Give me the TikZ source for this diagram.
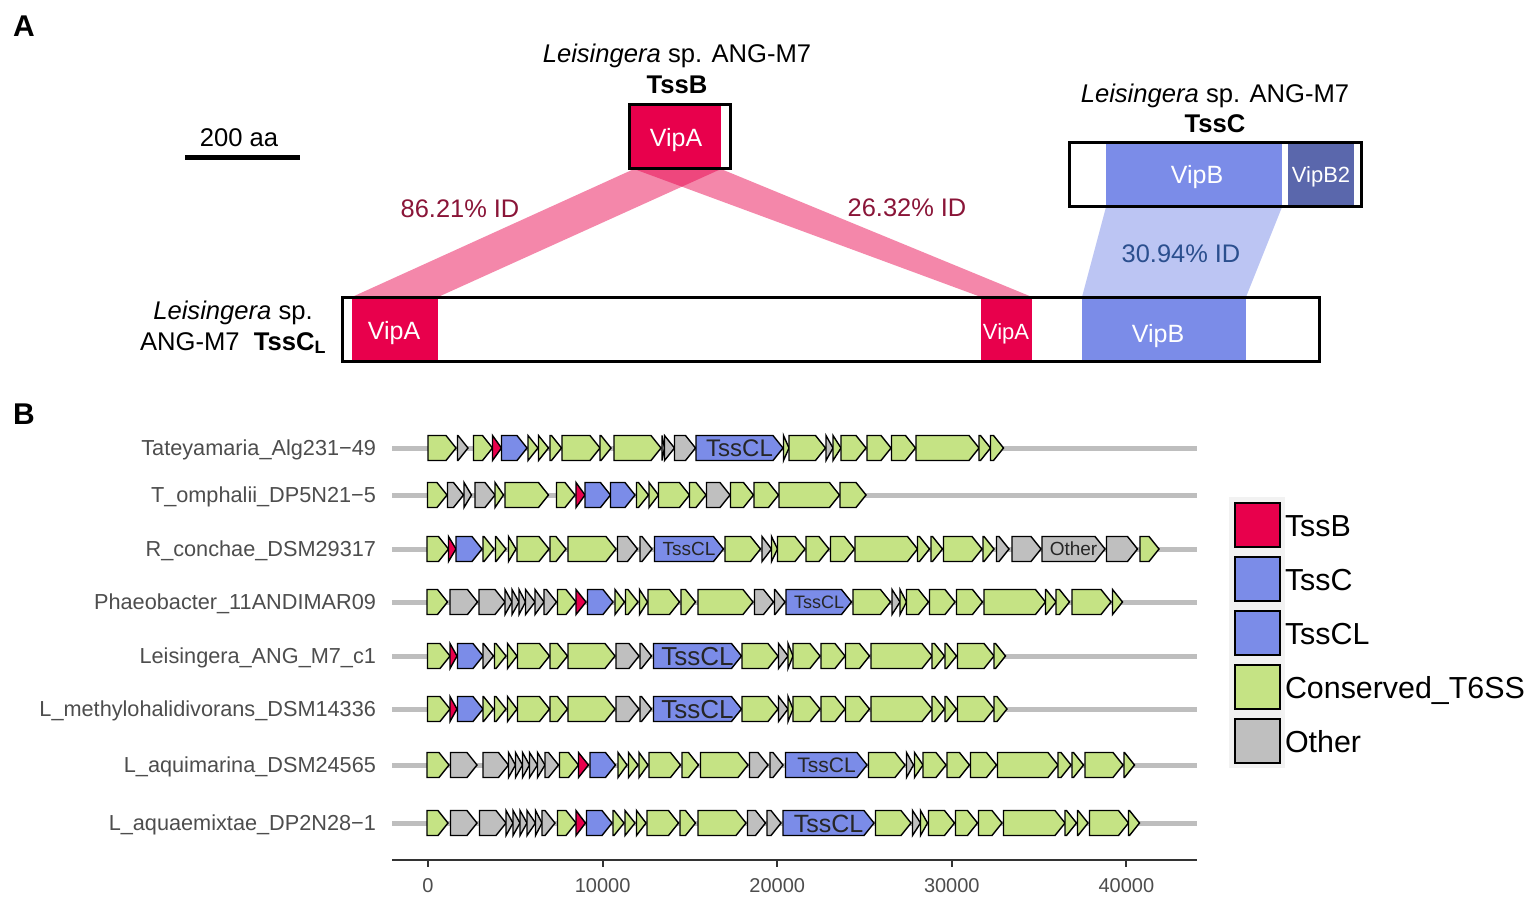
\documentclass[tikz,border=0pt]{standalone}
\usepackage{fontspec}
\setmainfont{Liberation Sans}
\definecolor{rr}{HTML}{E8004C}
\definecolor{bb}{HTML}{7B8CE8}
\definecolor{vb2}{HTML}{5A67AC}
\definecolor{gg}{HTML}{C5E384}
\definecolor{oo}{HTML}{BFBFBF}
\definecolor{txtg}{HTML}{4D4D4D}
\definecolor{idred}{HTML}{8A1538}
\definecolor{idblue}{HTML}{2B4F8E}
\definecolor{keybg}{HTML}{F2F2F2}
\definecolor{trackg}{HTML}{BEBEBE}
\newcommand\fs[1]{\fontsize{#1}{#1}\selectfont}
\newcommand\generow[2]{%
  \draw[trackg, line width=5pt] (392,#1) -- (1197,#1);
  \foreach \a/\b/\c in {#2} {
    \pgfmathsetmacro\hl{min(10,\b-\a)}
    \filldraw[fill=\c, draw=black, line width=1.4pt, line join=miter]
      (\a,#1-12.5) -- (\b-\hl,#1-12.5) -- (\b,#1) -- (\b-\hl,#1+12.5) -- (\a,#1+12.5) -- cycle;
  }}
\tikzset{
  lbl/.style={font=\fs{25.6}, anchor=base},
  rowlbl/.style={font=\fs{21.7}, text=txtg, anchor=base east},
  axlbl/.style={font=\fs{20}, text=txtg, anchor=base},
  leglbl/.style={font=\fs{30.4}, anchor=base west},
  keybox/.style={draw=black, line width=1.3pt},
  boxout/.style={draw=black, line width=3pt},
  inlbl/.style={font=\fs{25}, text=white, anchor=base},
  idlbl/.style={font=\fs{25.4}, anchor=base},
}
\begin{document}
\begin{tikzpicture}[x=1pt,y=-1pt, every node/.style={inner sep=0pt, outer sep=0pt}]
\useasboundingbox (0,0) rectangle (1537,900);
\fill[white] (0,0) rectangle (1537,900);

% ---------------- Panel A ----------------
\node[font=\fs{30}\bfseries, anchor=base] (labA) at (24,36) {A};
\node[lbl] (scl) at (239,146) {200 aa};
\coordinate (sb1) at (185,157);
\coordinate (sb2) at (300,157);
\draw[line width=5pt] (sb1) -- (sb2);

\node[lbl] (tbT) at (677,62) {\textit{Leisingera} sp. ANG-M7};
\node[lbl, font=\fs{25.6}\bfseries] (tbN) at (677,93) {TssB};
\node[lbl] (tcT) at (1215,102) {\textit{Leisingera} sp. ANG-M7};
\node[lbl, font=\fs{25.6}\bfseries] (tcN) at (1215,132) {TssC};
\node[lbl] (tlT1) at (233,319) {\textit{Leisingera} sp.};
\node[lbl] (tlT2) at (233,350) {ANG-M7\ \ \textbf{TssC\textsubscript{L}}};

% bands
\coordinate (bA1) at (634,169); \coordinate (bA2) at (721,169);
\coordinate (lA1) at (352,297); \coordinate (lA2) at (438,297);
\coordinate (rA1) at (981,297); \coordinate (rA2) at (1032,297);
\coordinate (tB1) at (1106,207); \coordinate (tB2) at (1282,207);
\coordinate (lB1) at (1082,297); \coordinate (lB2) at (1246,297);
\fill[rr, opacity=0.47] (bA1) -- (bA2) -- (lA2) -- (lA1) -- cycle;
\fill[rr, opacity=0.47] (bA1) -- (bA2) -- (rA2) -- (rA1) -- cycle;
\fill[bb, opacity=0.5] (tB1) -- (tB2) -- (lB2) -- (lB1) -- cycle;

% TssB box
\fill[rr] (631,104) rectangle (721,169);
\draw[boxout] (629.5,104.5) rectangle (730.5,168.5);
\node[inlbl] (vA0) at (676,146) {VipA};

% TssC box
\fill[bb] (1106,142) rectangle (1282,207);
\fill[vb2] (1288,142) rectangle (1354,207);
\draw[boxout] (1069.5,142.5) rectangle (1361.5,206.5);
\node[inlbl] (vB0) at (1197,183) {VipB};
\node[inlbl, font=\fs{22}] (vB2) at (1321,182) {VipB2};

% TssCL box
\fill[rr] (352,297) rectangle (438,362);
\fill[rr] (981,297) rectangle (1032,362);
\fill[bb] (1082,297) rectangle (1246,362);
\draw[boxout] (342.5,297.5) rectangle (1319.5,361.5);
\node[inlbl] (vA1) at (394,339) {VipA};
\node[inlbl, font=\fs{22}] (vA2) at (1006,339) {VipA};
\node[inlbl] (vB1) at (1158,342) {VipB};

\node[idlbl, text=idred] (id1) at (460,217) {86.21\% ID};
\node[idlbl, text=idred] (id2) at (907,216) {26.32\% ID};
\node[idlbl, text=idblue] (id3) at (1181,262) {30.94\% ID};

% ---------------- Panel B ----------------
\node[font=\fs{30}\bfseries, anchor=base] (labB) at (24,424) {B};

\node[rowlbl] (r1) at (376,455.5) {Tateyamaria\_Alg231−49};
\node[rowlbl] (r2) at (376,502.5) {T\_omphalii\_DP5N21−5};
\node[rowlbl] (r3) at (376,556.5) {R\_conchae\_DSM29317};
\node[rowlbl] (r4) at (376,609.5) {Phaeobacter\_11ANDIMAR09};
\node[rowlbl] (r5) at (376,663.5) {Leisingera\_ANG\_M7\_c1};
\node[rowlbl] (r6) at (376,716.5) {L\_methylohalidivorans\_DSM14336};
\node[rowlbl] (r7) at (376,772.5) {L\_aquimarina\_DSM24565};
\node[rowlbl] (r8) at (376,830.5) {L\_aquaemixtae\_DP2N28−1};

\generow{448}{428/456/gg, 457.5/468/oo, 473.5/492.5/gg, 492.5/501.5/rr, 501.5/527/bb, 528/538/gg, 538.5/548.5/gg, 550/561.5/gg, 562/600/gg, 600/611/gg, 614/661/gg, 662/664.5/oo, 664.5/674.5/oo, 674.5/695.5/oo, 696/783/bb, 783.5/789/gg, 789/825.5/gg, 826/833/oo, 833/841/gg, 841/866/gg, 867/891/gg, 891.5/915.5/gg, 916/979/gg, 979/990.5/gg, 990.5/1003.5/gg}
\generow{495}{427.5/447/gg, 447.5/463.5/oo, 464/471.5/oo, 475/495/oo, 495/503.5/gg, 505/548.5/gg, 556.5/575/gg, 576/585/rr, 585/610.5/bb, 610.5/635/bb, 636.5/648.5/gg, 649/658.5/gg, 658.5/689.5/gg, 689.5/706/gg, 706.5/730/oo, 730.5/753.5/gg, 754/778.5/gg, 779/839.5/gg, 840/866/gg}
\generow{549}{427/448.5/gg, 448.5/456/rr, 456/482/bb, 483/494/gg, 495.5/506/gg, 508.5/516/gg, 517/549/gg, 550/566/gg, 568/616/gg, 617.5/637.5/oo, 640/652/oo, 654.5/723.5/bb, 725/760.5/gg, 762/771.5/oo, 771.5/777.5/gg, 777.5/805/gg, 806/829/gg, 830.5/854.5/gg, 855/917.5/gg, 917.5/929.5/gg, 931/942.5/gg, 943.5/982/gg, 983/994/gg, 996.5/1009/oo, 1012/1041/oo, 1042/1105/oo, 1106.5/1137.5/oo, 1140/1159/gg}
\generow{602}{427/447.5/gg, 450/477.5/oo, 479/505/oo, 505/512/oo, 512/519/oo, 519/525.5/oo, 525.5/535/oo, 535/544/oo, 544/556.5/oo, 557.5/576/gg, 576/586/rr, 587.5/613/bb, 615/624.5/gg, 625.5/638/gg, 639.5/647.5/gg, 648/679.5/gg, 681/695.5/gg, 698/753/gg, 754.5/773.5/oo, 774.5/785/oo, 786/851.5/bb, 853/890.5/gg, 892/900/oo, 900/906.5/gg, 906.5/928.5/gg, 929.5/955/gg, 956.5/982.5/gg, 984/1045.5/gg, 1045.5/1056/gg, 1056/1069.5/gg, 1072/1111/gg, 1112.5/1122.5/gg}
\generow{656}{427.5/450/gg, 450/457/rr, 457.5/483/bb, 483/493.5/oo, 494.5/506/gg, 507.5/517/gg, 517.5/549.5/gg, 550/567.5/gg, 568/615/gg, 616/639/oo, 640/651.5/oo, 653.5/741.5/bb, 742/778/gg, 778.5/788/oo, 788/793/gg, 793/820/gg, 821/845/gg, 845.5/869.5/gg, 871/932/gg, 932/944.5/gg, 945/956.5/gg, 957.5/994/gg, 994/1005.5/gg}
\generow{709}{427.5/450/gg, 450/457/rr, 457.5/483/bb, 483/493.5/gg, 494.5/506/gg, 507.5/517/gg, 517.5/549.5/gg, 550/567.5/gg, 568/615/gg, 616/639/oo, 640/651.5/oo, 653.5/741.5/bb, 742/778/gg, 778.5/788/oo, 788/793/gg, 793/820/gg, 821/845/gg, 845.5/869.5/gg, 871/932/gg, 932/944.5/gg, 945/956.5/gg, 957.5/994/gg, 994/1007/gg}
\generow{765}{427/449/gg, 450.5/477/oo, 483/508.5/oo, 508.5/515.5/oo, 515.5/522.5/oo, 522.5/529.5/oo, 529.5/537.5/oo, 537.5/545/oo, 545/558.5/oo, 559.5/578.5/gg, 578.5/588.5/rr, 590/615.5/bb, 618/627/gg, 628.5/638/gg, 639/648/gg, 649/680.5/gg, 682/698.5/gg, 700.5/748/gg, 749.5/768/oo, 770/783/oo, 785.5/867/bb, 868.5/905/gg, 906.5/913.5/oo, 914.5/923/gg, 923/946/gg, 947/969.5/gg, 970.5/996.5/gg, 997.5/1058/gg, 1058/1071/gg, 1072/1083.5/gg, 1085/1123/gg, 1124/1134.5/gg}
\generow{823}{427/448/gg, 450.5/477/oo, 479.5/506/oo, 506/513/oo, 513/520/oo, 520/527/oo, 527/535.5/oo, 535.5/542/oo, 542/555/oo, 557.5/576/gg, 576/585.5/rr, 586.5/612/bb, 613/624/gg, 625/635/gg, 636.5/646/gg, 647/678.5/gg, 680/695.5/gg, 698/746/gg, 747.5/765.5/oo, 767/781/oo, 783/874/bb, 875.5/911/gg, 912.5/920.5/oo, 920.5/927.5/gg, 928.5/954.5/gg, 955.5/977.5/gg, 978.5/1002/gg, 1003.5/1065/gg, 1065/1076.5/gg, 1077.5/1088/gg, 1089.5/1128.5/gg, 1128.5/1139.5/gg}

% gene labels
\node[font=\fs{24}, text=black!85, anchor=base] (g1) at (739.5,456.6) {TssCL};
\node[font=\fs{19}, text=black!85, anchor=base] (g3) at (689,555.8) {TssCL};
\node[font=\fs{18}, text=black!85, anchor=base] (g4) at (819,608.5) {TssCL};
\node[font=\fs{26}, text=black!85, anchor=base] (g5) at (697.5,665.4) {TssCL};
\node[font=\fs{26}, text=black!85, anchor=base] (g6) at (697.5,718.4) {TssCL};
\node[font=\fs{21}, text=black!85, anchor=base] (g7) at (826.5,772.6) {TssCL};
\node[font=\fs{25}, text=black!85, anchor=base] (g8) at (828.5,832) {TssCL};
\node[font=\fs{19}, text=black!85, anchor=base] (go) at (1073.5,555.8) {Other};

% axis
\coordinate (ax0) at (392,860);
\coordinate (ax1) at (1197,860);
\draw[black!80, line width=2pt] (ax0) -- (ax1);
\foreach \v/\t in {0/0, 1/10000, 2/20000, 3/30000, 4/40000} {
  \draw[black!80, line width=2pt] (428+174.6*\v,860) -- (428+174.6*\v,867);
  \node[axlbl] at (428+174.6*\v,892) {\t};
}

% legend
\fill[keybg] (1229,497) rectangle (1285,768);
\foreach \i/\c/\t in {0/rr/TssB, 1/bb/TssC, 2/bb/TssCL, 3/gg/Conserved\_T6SS, 4/oo/Other} {
  \filldraw[keybox, fill=\c] (1235,503+54*\i) rectangle (1280,547+54*\i);
  \node[leglbl] (leg\i) at (1285,536+54*\i) {\t};
}
\end{tikzpicture}
\end{document}
